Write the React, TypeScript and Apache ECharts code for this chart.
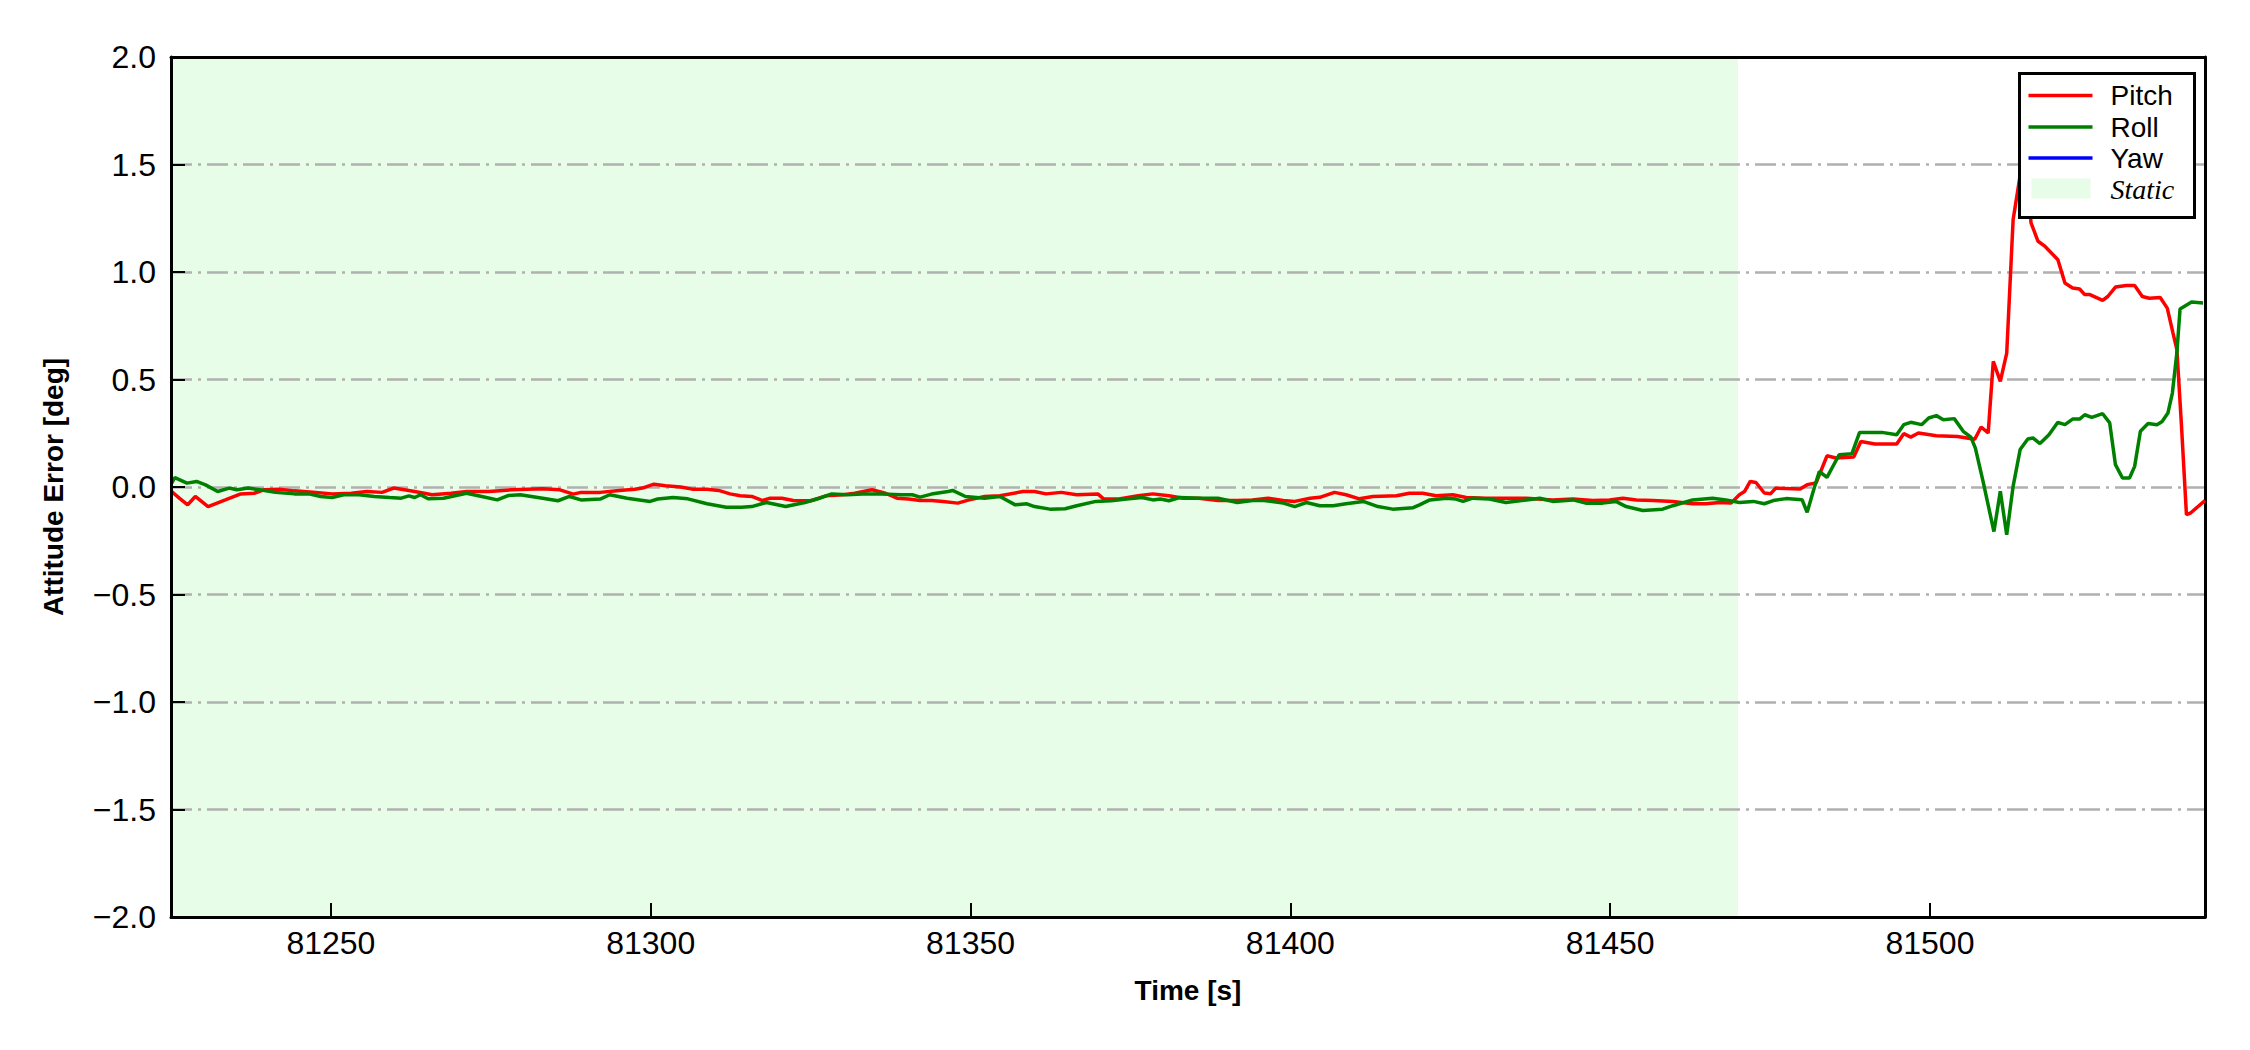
import React, { useEffect, useRef } from "react";
import * as echarts from "echarts";

const xMin = 81225;
const xMax = 81543;
const staticStart = 81225;
const staticEnd = 81470;

const pitchTime = [
  81225.1, 81226.3, 81227.6, 81228.8, 81230.8, 81233.5, 81235.9, 81238.0, 81239.5, 81241.9,
  81244.3, 81247.2, 81250.2, 81253.2, 81255.6, 81258.0, 81259.8, 81262.2, 81264.6, 81265.8,
  81268.8, 81271.2, 81274.7, 81278.3, 81283.1, 81285.8, 81287.9, 81289.1, 81292.1, 81295.1,
  81297.5, 81298.7, 81300.5, 81302.3, 81304.7, 81306.5, 81308.8, 81310.6, 81312.4, 81314.0,
  81315.8, 81317.5, 81318.7, 81320.5, 81322.3, 81325.0, 81327.4, 81330.1, 81331.9, 81334.6,
  81336.7, 81338.5, 81340.3, 81342.1, 81343.9, 81345.7, 81348.0, 81349.8, 81352.2, 81354.6,
  81358.2, 81360.0, 81361.8, 81364.2, 81366.6, 81369.9, 81370.8, 81373.2, 81376.2, 81378.5,
  81381.0, 81383.3, 81385.7, 81388.7, 81391.7, 81394.1, 81396.5, 81398.9, 81400.7, 81403.1,
  81404.6, 81406.9, 81408.7, 81410.8, 81412.9, 81416.6, 81418.6, 81420.7, 81422.8, 81425.4,
  81427.5, 81430.6, 81433.7, 81436.9, 81441.0, 81444.2, 81447.3, 81449.9, 81452.0, 81454.1,
  81456.7, 81459.8, 81462.9, 81465.0, 81467.1, 81468.9, 81470.2, 81471.0, 81471.9, 81472.8,
  81474.1, 81475.1, 81475.9, 81479.7, 81480.8, 81482.2, 81483.9, 81485.3, 81488.1, 81489.2,
  81491.4, 81494.8, 81495.9, 81497.0, 81498.2, 81501.0, 81504.3, 81506.0, 81507.0, 81508.0,
  81509.1, 81509.9, 81511.0, 81512.0, 81513.0, 81514.1, 81515.0, 81515.8, 81516.9, 81518.0,
  81520.0, 81521.1, 81522.3, 81523.4, 81524.2, 81525.0, 81527.0, 81527.8, 81529.0, 81530.7,
  81532.0, 81533.2, 81534.3, 81536.0, 81537.1, 81538.0, 81538.6, 81539.3, 81540.1, 81540.7,
  81543.0,
];
const pitchValues = [
  -0.021, -0.052, -0.083, -0.044, -0.091, -0.060, -0.032, -0.029, -0.013, -0.010,
  -0.018, -0.024, -0.032, -0.029, -0.021, -0.025, -0.005, -0.016, -0.029, -0.036,
  -0.029, -0.021, -0.021, -0.013, -0.008, -0.013, -0.033, -0.025, -0.025, -0.016,
  -0.010, -0.005, 0.013, 0.006, 0.000, -0.010, -0.010, -0.016, -0.032, -0.041,
  -0.044, -0.063, -0.052, -0.052, -0.063, -0.064, -0.041, -0.036, -0.029, -0.013,
  -0.029, -0.052, -0.056, -0.063, -0.063, -0.067, -0.075, -0.060, -0.044, -0.041,
  -0.021, -0.021, -0.032, -0.025, -0.036, -0.032, -0.055, -0.056, -0.041, -0.032,
  -0.041, -0.052, -0.052, -0.063, -0.063, -0.060, -0.052, -0.063, -0.067, -0.052,
  -0.048, -0.025, -0.036, -0.055, -0.044, -0.041, -0.029, -0.029, -0.041, -0.036,
  -0.049, -0.052, -0.052, -0.052, -0.060, -0.056, -0.063, -0.060, -0.052, -0.060,
  -0.063, -0.067, -0.078, -0.078, -0.072, -0.075, -0.036, -0.021, 0.026, 0.021,
  -0.028, -0.031, -0.005, -0.009, 0.011, 0.019, 0.145, 0.135, 0.140, 0.212,
  0.200, 0.200, 0.248, 0.232, 0.251, 0.238, 0.235, 0.227, 0.222, 0.279,
  0.251, 0.584, 0.491, 0.623, 1.243, 1.45, 1.55, 1.228, 1.143, 1.119,
  1.057, 0.949, 0.926, 0.921, 0.895, 0.895, 0.868, 0.886, 0.930, 0.937,
  0.937, 0.886, 0.878, 0.881, 0.832, 0.716, 0.640, 0.297, -0.129, -0.122,
  -0.063,
];

const rollTime = [
  81225.1, 81225.6, 81227.5, 81229.0, 81230.4, 81232.3, 81234.1, 81235.3, 81237.1, 81238.9,
  81241.3, 81244.3, 81246.7, 81248.4, 81250.2, 81252.0, 81254.4, 81256.8, 81259.2, 81261.0,
  81262.2, 81263.1, 81264.0, 81265.2, 81267.6, 81271.2, 81273.6, 81276.0, 81277.8, 81279.6,
  81283.1, 81285.5, 81287.3, 81289.1, 81292.1, 81293.6, 81296.3, 81299.9, 81301.1, 81303.5,
  81305.8, 81308.8, 81311.8, 81314.2, 81315.8, 81318.1, 81321.1, 81324.1, 81326.0, 81328.3,
  81330.7, 81333.1, 81336.1, 81339.1, 81340.9, 81342.1, 81343.9, 81346.5, 81347.2, 81349.2,
  81352.2, 81354.6, 81357.0, 81358.8, 81360.0, 81362.4, 81364.8, 81366.6, 81369.6, 81372.0,
  81374.4, 81376.8, 81378.5, 81379.7, 81381.0, 81382.7, 81385.7, 81388.7, 81391.7, 81394.1,
  81395.9, 81398.9, 81400.7, 81402.5, 81404.6, 81406.7, 81408.7, 81411.4, 81413.7, 81416.0,
  81419.2, 81420.2, 81421.8, 81424.4, 81425.9, 81427.0, 81428.5, 81431.1, 81433.7, 81436.9,
  81439.0, 81441.0, 81444.2, 81446.2, 81448.8, 81450.9, 81452.5, 81455.1, 81458.2, 81459.8,
  81462.9, 81466.0, 81468.1, 81470.2, 81472.4, 81474.1, 81475.5, 81477.5, 81480.0, 81480.8,
  81481.9, 81482.7, 81483.9, 81485.8, 81487.8, 81489.0, 81492.5, 81494.8, 81495.9, 81497.0,
  81498.7, 81499.8, 81501.0, 81502.1, 81503.8, 81505.2, 81506.4, 81507.1, 81508.3, 81510.0,
  81511.0, 81512.0, 81513.0, 81514.1, 81515.3, 81516.1, 81517.2, 81518.6, 81520.0, 81521.1,
  81522.3, 81523.4, 81524.2, 81525.3, 81527.0, 81528.1, 81529.0, 81530.1, 81531.2, 81532.0,
  81532.9, 81534.1, 81535.5, 81536.3, 81537.2, 81537.9, 81538.6, 81539.1, 81540.9, 81542.7,
];
const rollValues = [
  0.018, 0.044, 0.018, 0.026, 0.010, -0.021, -0.005, -0.013, -0.005, -0.013,
  -0.025, -0.032, -0.033, -0.044, -0.049, -0.036, -0.036, -0.044, -0.049, -0.052,
  -0.041, -0.049, -0.036, -0.055, -0.052, -0.029, -0.044, -0.060, -0.039, -0.036,
  -0.052, -0.064, -0.044, -0.060, -0.056, -0.036, -0.052, -0.067, -0.056, -0.049,
  -0.055, -0.078, -0.094, -0.094, -0.091, -0.072, -0.091, -0.072, -0.056, -0.032,
  -0.036, -0.033, -0.032, -0.036, -0.036, -0.047, -0.033, -0.021, -0.016, -0.044,
  -0.052, -0.044, -0.083, -0.078, -0.091, -0.103, -0.101, -0.087, -0.067, -0.064,
  -0.056, -0.049, -0.060, -0.056, -0.064, -0.049, -0.052, -0.052, -0.072, -0.063,
  -0.063, -0.075, -0.091, -0.072, -0.087, -0.087, -0.078, -0.067, -0.091, -0.103,
  -0.096, -0.083, -0.060, -0.052, -0.056, -0.067, -0.052, -0.056, -0.072, -0.060,
  -0.052, -0.067, -0.060, -0.075, -0.075, -0.067, -0.091, -0.109, -0.103, -0.087,
  -0.060, -0.052, -0.060, -0.072, -0.067, -0.078, -0.063, -0.054, -0.059, -0.118,
  -0.005, 0.072, 0.045, 0.150, 0.155, 0.254, 0.254, 0.243, 0.290, 0.301,
  0.290, 0.321, 0.332, 0.313, 0.318, 0.259, 0.232, 0.181, 0.026, -0.207,
  -0.020, -0.222, 0.003, 0.174, 0.223, 0.228, 0.202, 0.243, 0.301, 0.290,
  0.316, 0.316, 0.336, 0.324, 0.341, 0.298, 0.104, 0.042, 0.042, 0.096,
  0.259, 0.295, 0.290, 0.305, 0.344, 0.437, 0.623, 0.828, 0.860, 0.856,
];

const yawTime: number[] = [];
const yawValues: number[] = [];

const seriesNames = ["Pitch", "Roll", "Yaw"];
const seriesColors = ["#ff0000", "#008000", "#0000ff"];
const staticLabel = "Static";
const staticColor = "#e8fde8";

const SANS = "'Liberation Sans', Arial, Helvetica, sans-serif";
const SERIF = "'Liberation Serif', 'Times New Roman', serif";

function zip(t: number[], v: number[]) {
  return t.map((x, i) => [x, v[i]]);
}

function fmtY(v: number) {
  const s = Math.abs(v).toFixed(1);
  return v < 0 ? "\u2212" + s : s;
}

export default function App() {
  const ref = useRef<HTMLDivElement>(null);

  useEffect(() => {
    if (!ref.current) return;
    const chart = echarts.init(ref.current, null, { renderer: "svg" });

    const frameLine = { show: true, onZero: false, lineStyle: { color: "#000", width: 3 } };
    const tickStyle = { show: true, inside: true, length: 14, lineStyle: { color: "#000", width: 2 } };
    const nameStyle = { fontSize: 28, fontWeight: "bold", color: "#000", fontFamily: SANS };
    const LZ = 200;
    const textX = 91;

    const rowY = [22, 53.5, 84.5];
    const legendChildren: any[] = [
      {
        type: "rect",
        z: LZ,
        shape: { x: 0, y: 0, width: 175, height: 144 },
        style: { fill: "#fff", stroke: "#000", lineWidth: 3 },
      },
    ];
    seriesNames.forEach((n, i) => {
      legendChildren.push({
        type: "line",
        z: LZ + 1,
        shape: { x1: 9, y1: rowY[i], x2: 73, y2: rowY[i] },
        style: { stroke: seriesColors[i], lineWidth: 3.5 },
      });
      legendChildren.push({
        type: "text",
        z: LZ + 1,
        x: textX,
        y: rowY[i],
        style: { text: n, fontSize: 28, fill: "#000", verticalAlign: "middle", fontFamily: SANS },
      });
    });
    legendChildren.push({
      type: "rect",
      z: LZ + 1,
      shape: { x: 12, y: 105, width: 59, height: 20 },
      style: { fill: staticColor },
    });
    legendChildren.push({
      type: "text",
      z: LZ + 1,
      x: textX,
      y: 116,
      style: {
        text: staticLabel,
        fontSize: 28,
        fontStyle: "italic",
        fill: "#000",
        verticalAlign: "middle",
        fontFamily: SERIF,
      },
    });

    chart.setOption({
      animation: false,
      backgroundColor: "#ffffff",
      textStyle: { fontFamily: SANS },
      grid: { left: 171, right: 45, top: 57, bottom: 133, containLabel: false },
      xAxis: [
        {
          type: "value",
          min: xMin,
          max: xMax,
          splitNumber: 6,
          position: "bottom",
          z: 10,
          axisLine: frameLine,
          axisTick: tickStyle,
          axisLabel: {
            color: "#000",
            fontSize: 32,
            margin: 10,
            fontFamily: SANS,
            showMinLabel: false,
            showMaxLabel: false,
            formatter: (v: number) => (Math.abs(v % 50) < 1e-6 ? String(v) : ""),
          },
          splitLine: { show: false },
          name: "Time [s]",
          nameLocation: "middle",
          nameGap: 59,
          nameTextStyle: nameStyle,
        },
        {
          type: "value",
          min: xMin,
          max: xMax,
          position: "top",
          z: 10,
          axisLine: frameLine,
          axisTick: { show: false },
          axisLabel: { show: false },
          splitLine: { show: false },
        },
      ],
      yAxis: [
        {
          type: "value",
          min: -2,
          max: 2,
          interval: 0.5,
          position: "left",
          z: 10,
          axisLine: frameLine,
          axisTick: tickStyle,
          axisLabel: { color: "#000", fontSize: 32, margin: 15, fontFamily: SANS, formatter: fmtY },
          splitLine: { show: false },
          name: "Attitude Error [deg]",
          nameLocation: "middle",
          nameGap: 104,
          nameTextStyle: nameStyle,
        },
        {
          type: "value",
          min: -2,
          max: 2,
          interval: 0.5,
          position: "right",
          z: 2,
          axisLine: frameLine,
          axisTick: { show: false },
          axisLabel: { show: false },
          splitLine: {
            show: true,
            lineStyle: { color: "#b0b0b0", width: 2.5, type: [21, 6, 3, 6] },
          },
        },
      ],
      graphic: {
        z: LZ,
        elements: [{ type: "group", left: 2018, top: 72, z: LZ, children: legendChildren }],
      },
      series: [
        {
          name: staticLabel,
          type: "line",
          data: [],
          z: 1,
          silent: true,
          markArea: {
            silent: true,
            z: 1,
            itemStyle: { color: staticColor, borderWidth: 0 },
            label: { show: false },
            data: [[{ xAxis: staticStart }, { xAxis: staticEnd }]],
          },
        },
        {
          name: seriesNames[0],
          type: "line",
          data: zip(pitchTime, pitchValues),
          showSymbol: false,
          symbol: "none",
          z: 4,
          lineStyle: { color: seriesColors[0], width: 3.5 },
          itemStyle: { color: seriesColors[0] },
        },
        {
          name: seriesNames[1],
          type: "line",
          data: zip(rollTime, rollValues),
          showSymbol: false,
          symbol: "none",
          z: 5,
          lineStyle: { color: seriesColors[1], width: 3.5 },
          itemStyle: { color: seriesColors[1] },
        },
        {
          name: seriesNames[2],
          type: "line",
          data: zip(yawTime, yawValues),
          showSymbol: false,
          symbol: "none",
          z: 3,
          lineStyle: { color: seriesColors[2], width: 3.5 },
          itemStyle: { color: seriesColors[2] },
        },
      ],
    });

    return () => chart.dispose();
  }, []);

  return (
    <div
      ref={ref}
      style={{ position: "fixed", left: 0, top: 0, width: 2250, height: 1050, background: "#fff" }}
    />
  );
}
